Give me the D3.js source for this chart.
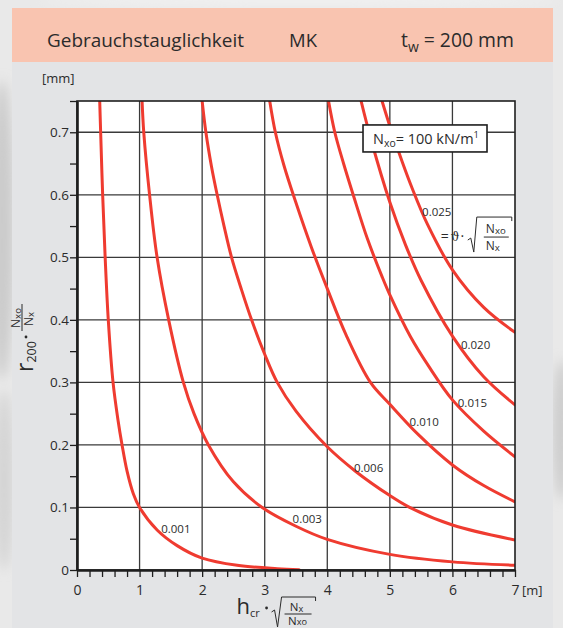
<!DOCTYPE html>
<html>
<head>
<meta charset="utf-8">
<script src="https://cdn.jsdelivr.net/npm/d3@7"></script>
<style>
  html, body { margin: 0; padding: 0; background: #e6e6e6; overflow: hidden; }
  svg { display: block; }
  text { font-family: "Open Sans", "Noto Sans", sans-serif; fill: #2b2b2b; }
</style>
</head>
<body>
<div id="chart"></div>
<script>
// ϑ·sqrt(Nxo/Nx) families: points are [hcr·sqrt(Nx/Nxo) in m, r200·Nxo/Nx in mm]
const curveNames = ["0.001", "0.003", "0.006", "0.010", "0.015", "0.020", "0.025"];

const theta001 = [[0.363,0.75],[0.378,0.70],[0.41,0.60],[0.45,0.50],[0.50,0.40],[0.576,0.30],
  [0.655,0.24],[0.72,0.20],[0.80,0.158],[0.90,0.122],[1.0,0.10],[1.28,0.064],[1.6,0.039],
  [2.0,0.019],[2.56,0.0075],[3.2,0.0022],[3.55,0.0006]];
const theta003 = [[1.04,0.75],[1.067,0.70],[1.16,0.60],[1.28,0.50],[1.465,0.40],[1.70,0.30],
  [1.87,0.25],[2.1,0.20],[2.5,0.141],[2.96,0.10],[3.5,0.070],[4.0,0.049],[5.0,0.025],
  [6.0,0.013],[7.0,0.0075]];
const theta006 = [[2.0,0.75],[2.06,0.70],[2.15,0.645],[2.24,0.60],[2.35,0.55],[2.47,0.50],
  [2.63,0.448],[2.79,0.40],[3.0,0.345],[3.2,0.30],[3.5,0.254],[4.0,0.197],[4.45,0.158],
  [5.0,0.119],[5.3,0.101],[6.0,0.072],[7.0,0.048]];
const theta010 = [[3.08,0.75],[3.17,0.70],[3.31,0.646],[3.49,0.59],[3.75,0.515],[4.0,0.45],
  [4.3,0.376],[4.69,0.30],[5.0,0.265],[5.46,0.216],[6.0,0.168],[6.5,0.135],[7.0,0.109]];
const theta015 = [[4.02,0.75],[4.12,0.70],[4.26,0.65],[4.42,0.598],[4.64,0.53],[4.88,0.468],
  [5.0,0.44],[5.33,0.373],[5.62,0.326],[6.0,0.272],[6.5,0.222],[7.0,0.181]];
const theta020 = [[4.54,0.75],[4.7,0.688],[5.0,0.588],[5.25,0.52],[5.5,0.463],[6.0,0.374],
  [6.5,0.309],[7.0,0.264]];
const theta025 = [[4.875,0.75],[5.0,0.71],[5.2,0.652],[5.35,0.612],[5.6,0.553],[6.0,0.48],
  [6.5,0.42],[7.0,0.38]];

const xTickValues = [0, 1, 2, 3, 4, 5, 6, 7];
const xTickLabels = ["0", "1", "2", "3", "4", "5", "6", "7"];
const yTickValues = [0, 0.1, 0.2, 0.3, 0.4, 0.5, 0.6, 0.7];
const yTickLabels = ["0", "0.1", "0.2", "0.3", "0.4", "0.5", "0.6", "0.7"];

const series = [theta001, theta003, theta006, theta010, theta015, theta020, theta025];

// ---------------------------------------------------------------------------
const W = 563, H = 628;
const svg = d3.select("#chart").append("svg").attr("width", W).attr("height", H);
const defs = svg.append("defs");

// soft photographic backdrop around the card
const blur = defs.append("filter").attr("id", "soft").attr("x", "-50%").attr("y", "-50%")
  .attr("width", "200%").attr("height", "200%");
blur.append("feGaussianBlur").attr("stdDeviation", 6);
svg.append("rect").attr("width", W).attr("height", H).attr("fill", "#e9e9e9");
const haze = svg.append("g").attr("filter", "url(#soft)");
haze.append("ellipse").attr("cx", 2).attr("cy", 230).attr("rx", 12).attr("ry", 150).attr("fill", "#cbcbcb");
haze.append("ellipse").attr("cx", 4).attr("cy", 480).attr("rx", 10).attr("ry", 90).attr("fill", "#d4d4d4");
haze.append("ellipse").attr("cx", 562).attr("cy", 430).attr("rx", 10).attr("ry", 70).attr("fill", "#cdcdcd");
haze.append("ellipse").attr("cx", 300).attr("cy", 0).attr("rx", 260).attr("ry", 5).attr("fill", "#f3f3f3");

// card: header band and grey body
svg.append("rect").attr("x", 12).attr("y", 62).attr("width", 541).attr("height", 566).attr("fill", "#e3e4e6");
svg.append("rect").attr("x", 12).attr("y", 8).attr("width", 541).attr("height", 54).attr("fill", "#f9c4b0");

function fitWidth(sel, target) {
  const w = sel.node().getComputedTextLength();
  const fs = parseFloat(sel.attr("font-size"));
  sel.attr("font-size", (fs * target / w).toFixed(2));
}

const h1 = svg.append("text").attr("x", 47).attr("y", 47).attr("font-size", 18).text("Gebrauchstauglichkeit");
fitWidth(h1, 197);
const h2 = svg.append("text").attr("x", 289).attr("y", 47).attr("font-size", 18).text("MK");
fitWidth(h2, 28);
const h3 = svg.append("text").attr("x", 401).attr("y", 47).attr("font-size", 18);
h3.append("tspan").text("t");
h3.append("tspan").attr("font-size", "0.72em").attr("dy", 5).text("w");
h3.append("tspan").attr("dy", -5).text(" = 200 mm");
fitWidth(h3, 113);

// ---------------------------------------------------------------------------
const x = d3.scaleLinear().domain([0, 7]).range([77, 515]);
const y = d3.scaleLinear().domain([0, 0.75]).range([570, 101]);

const plot = svg.append("g");
plot.append("rect").attr("x", x(0)).attr("y", y(0.75)).attr("width", x(7) - x(0))
  .attr("height", y(0) - y(0.75)).attr("fill", "#ffffff");

// grid
plot.append("g").selectAll("line").data(xTickValues.filter(d => d > 0 && d < 7)).join("line")
  .attr("x1", d => x(d)).attr("x2", d => x(d)).attr("y1", y(0)).attr("y2", y(0.75))
  .attr("stroke", "#3a3a3a").attr("stroke-width", 1.3);
plot.append("g").selectAll("line").data(yTickValues.filter(d => d > 0)).join("line")
  .attr("x1", x(0)).attr("x2", x(7)).attr("y1", d => y(d)).attr("y2", d => y(d))
  .attr("stroke", "#3a3a3a").attr("stroke-width", 1.3);

// curves
defs.append("clipPath").attr("id", "plotClip").append("rect")
  .attr("x", x(0)).attr("y", y(0.75)).attr("width", x(7) - x(0)).attr("height", y(0) - y(0.75));
const line = d3.line().x(d => x(d[0])).y(d => y(d[1])).curve(d3.curveCatmullRom.alpha(0.5));
plot.append("g").attr("clip-path", "url(#plotClip)").selectAll("path").data(series).join("path")
  .attr("d", line).attr("fill", "none").attr("stroke", "#ef3b30").attr("stroke-width", 3)
  .attr("stroke-linecap", "round");

// frame
plot.append("rect").attr("x", x(0)).attr("y", y(0.75)).attr("width", x(7) - x(0))
  .attr("height", y(0) - y(0.75)).attr("fill", "none").attr("stroke", "#1e1e1e").attr("stroke-width", 1.6);

// curve labels (placed in data units)
const labelPos = [[1.58, 0.067], [3.68, 0.083], [4.66, 0.164], [5.55, 0.237], [6.32, 0.268], [6.37, 0.361], [5.75, 0.574]];
plot.append("g").selectAll("text").data(curveNames).join("text")
  .attr("x", (d, i) => x(labelPos[i][0])).attr("y", (d, i) => y(labelPos[i][1]))
  .attr("text-anchor", "middle").attr("dominant-baseline", "central")
  .attr("font-size", 11.5).attr("fill", "#333").text(d => d);

// axes
const xAxis = d3.axisBottom(x).tickValues(x.ticks(35)).tickSize(7).tickSizeOuter(0)
  .tickPadding(8).tickFormat(d => { const i = xTickValues.indexOf(d); return i >= 0 ? xTickLabels[i] : ""; });
const gx = svg.append("g").attr("transform", `translate(0,${y(0)})`).call(xAxis);
gx.select(".domain").attr("stroke", "#1e1e1e").attr("stroke-width", 2.6);
gx.selectAll(".tick line").attr("stroke", "#1e1e1e").attr("stroke-width", 1.3);
gx.selectAll(".tick text").attr("font-size", 14).attr("font-family", "\"Open Sans\", sans-serif").attr("fill", "#2b2b2b");

const yAxis = d3.axisLeft(y).tickValues(y.ticks(15)).tickSize(7).tickSizeOuter(0)
  .tickPadding(1).tickFormat(d => {
    const i = yTickValues.findIndex(v => Math.abs(v - d) < 1e-9);
    return i >= 0 ? yTickLabels[i] : "";
  });
const gy = svg.append("g").attr("transform", `translate(${x(0)},0)`).call(yAxis);
gy.select(".domain").attr("stroke", "#1e1e1e").attr("stroke-width", 2.6);
gy.selectAll(".tick line").attr("stroke", "#1e1e1e").attr("stroke-width", 1.3);
gy.selectAll(".tick text").attr("font-size", 13.5).attr("font-family", "\"Open Sans\", sans-serif").attr("fill", "#2b2b2b");

// units
svg.append("text").attr("x", x(7) + 7).attr("y", 595).attr("font-size", 13).text("[m]");
svg.append("text").attr("x", 42).attr("y", 83).attr("font-size", 13).text("[mm]");

// reference box
const bx = x(4.571), by = y(0.7117);
const box = svg.append("g").attr("transform", `translate(${bx},${by})`);
box.append("rect").attr("width", 124).attr("height", 27).attr("fill", "#fff")
  .attr("stroke", "#1e1e1e").attr("stroke-width", 1.6);
const bt = box.append("text").attr("x", 10).attr("y", 19).attr("font-size", 14);
bt.append("tspan").text("N");
bt.append("tspan").attr("font-size", "0.72em").attr("dy", 3).text("xo");
bt.append("tspan").attr("dy", -3).text("= 100 kN/m");
bt.append("tspan").attr("font-size", "0.65em").attr("dy", -6).text("1");
fitWidth(bt, 106);

// "= ϑ · sqrt(Nxo/Nx)" annotation beside the 0.025 label
const ax = x(5.75), ay = y(0.574);
const ann = svg.append("g").attr("transform", `translate(${ax},${ay})`);
const eq = ann.append("text").attr("x", 4).attr("y", 30).attr("font-size", 14);
eq.append("tspan").text("=");
eq.append("tspan").attr("font-family", "\"DejaVu Serif\", serif").attr("font-size", 12).attr("dx", 2).text("ϑ");
eq.append("tspan").attr("dx", 1).text("·");
ann.append("path").attr("d", "M31,29 L34,27 L37,41 L40,6 L75,6 L75,10")
  .attr("fill", "none").attr("stroke", "#2b2b2b").attr("stroke-width", 1);
const num = ann.append("text").attr("x", 59).attr("y", 22).attr("text-anchor", "middle").attr("font-size", 12);
num.append("tspan").text("N");
num.append("tspan").attr("font-size", "0.8em").attr("dy", 1).text("xo");
ann.append("line").attr("x1", 47).attr("x2", 72).attr("y1", 26).attr("y2", 26).attr("stroke", "#2b2b2b").attr("stroke-width", 1);
const den = ann.append("text").attr("x", 56).attr("y", 39).attr("text-anchor", "middle").attr("font-size", 12);
den.append("tspan").text("N");
den.append("tspan").attr("font-size", "0.8em").attr("dy", 1).text("x");

// x axis title: hcr · sqrt(Nx/Nxo)
const xt = svg.append("g").attr("transform", `translate(${x(2.55)},614)`);
const hcr = xt.append("text").attr("font-size", 22);
hcr.append("tspan").text("h");
hcr.append("tspan").attr("font-size", 11).attr("dy", 3).text("cr");
xt.append("circle").attr("cx", 30).attr("cy", -6).attr("r", 1.4).attr("fill", "#2b2b2b");
xt.append("path").attr("d", "M35,-2 L38,-4 L41,13 L45,-17 L79,-17 L79,-13")
  .attr("fill", "none").attr("stroke", "#2b2b2b").attr("stroke-width", 1);
const fracFont = "\"Liberation Sans\", Arial, sans-serif";
const xn = xt.append("text").attr("x", 60).attr("y", -3).attr("text-anchor", "middle")
  .attr("font-family", fracFont).attr("font-size", 11.5);
xn.append("tspan").text("N");
xn.append("tspan").attr("font-size", "0.8em").attr("dy", 1).text("x");
xt.append("line").attr("x1", 48).attr("x2", 75).attr("y1", 0).attr("y2", 0).attr("stroke", "#2b2b2b").attr("stroke-width", 1);
const xd = xt.append("text").attr("x", 61).attr("y", 11).attr("text-anchor", "middle")
  .attr("font-family", fracFont).attr("font-size", 11.5);
xd.append("tspan").text("N");
xd.append("tspan").attr("font-size", "0.8em").text("xo");

// y axis title: r200 · Nxo/Nx, read bottom to top
const yt = svg.append("g").attr("transform", "translate(33,372) rotate(-90)");
const r200 = yt.append("text").attr("font-size", 23);
r200.append("tspan").text("r");
r200.append("tspan").attr("font-size", 12.5).attr("dy", 3).text("200");
yt.append("circle").attr("cx", 35).attr("cy", -7).attr("r", 1.4).attr("fill", "#2b2b2b");
const yn = yt.append("text").attr("x", 54).attr("y", -13.5).attr("text-anchor", "middle").attr("font-size", 12);
yn.append("tspan").text("N");
yn.append("tspan").attr("font-size", "0.8em").attr("dy", 1).text("xo");
yt.append("line").attr("x1", 41).attr("x2", 68).attr("y1", -11).attr("y2", -11).attr("stroke", "#2b2b2b").attr("stroke-width", 1);
const yd = yt.append("text").attr("x", 53).attr("y", -0.5).attr("text-anchor", "middle").attr("font-size", 12);
yd.append("tspan").text("N");
yd.append("tspan").attr("font-size", "0.8em").attr("dy", 1).text("x");
</script>
</body>
</html>
